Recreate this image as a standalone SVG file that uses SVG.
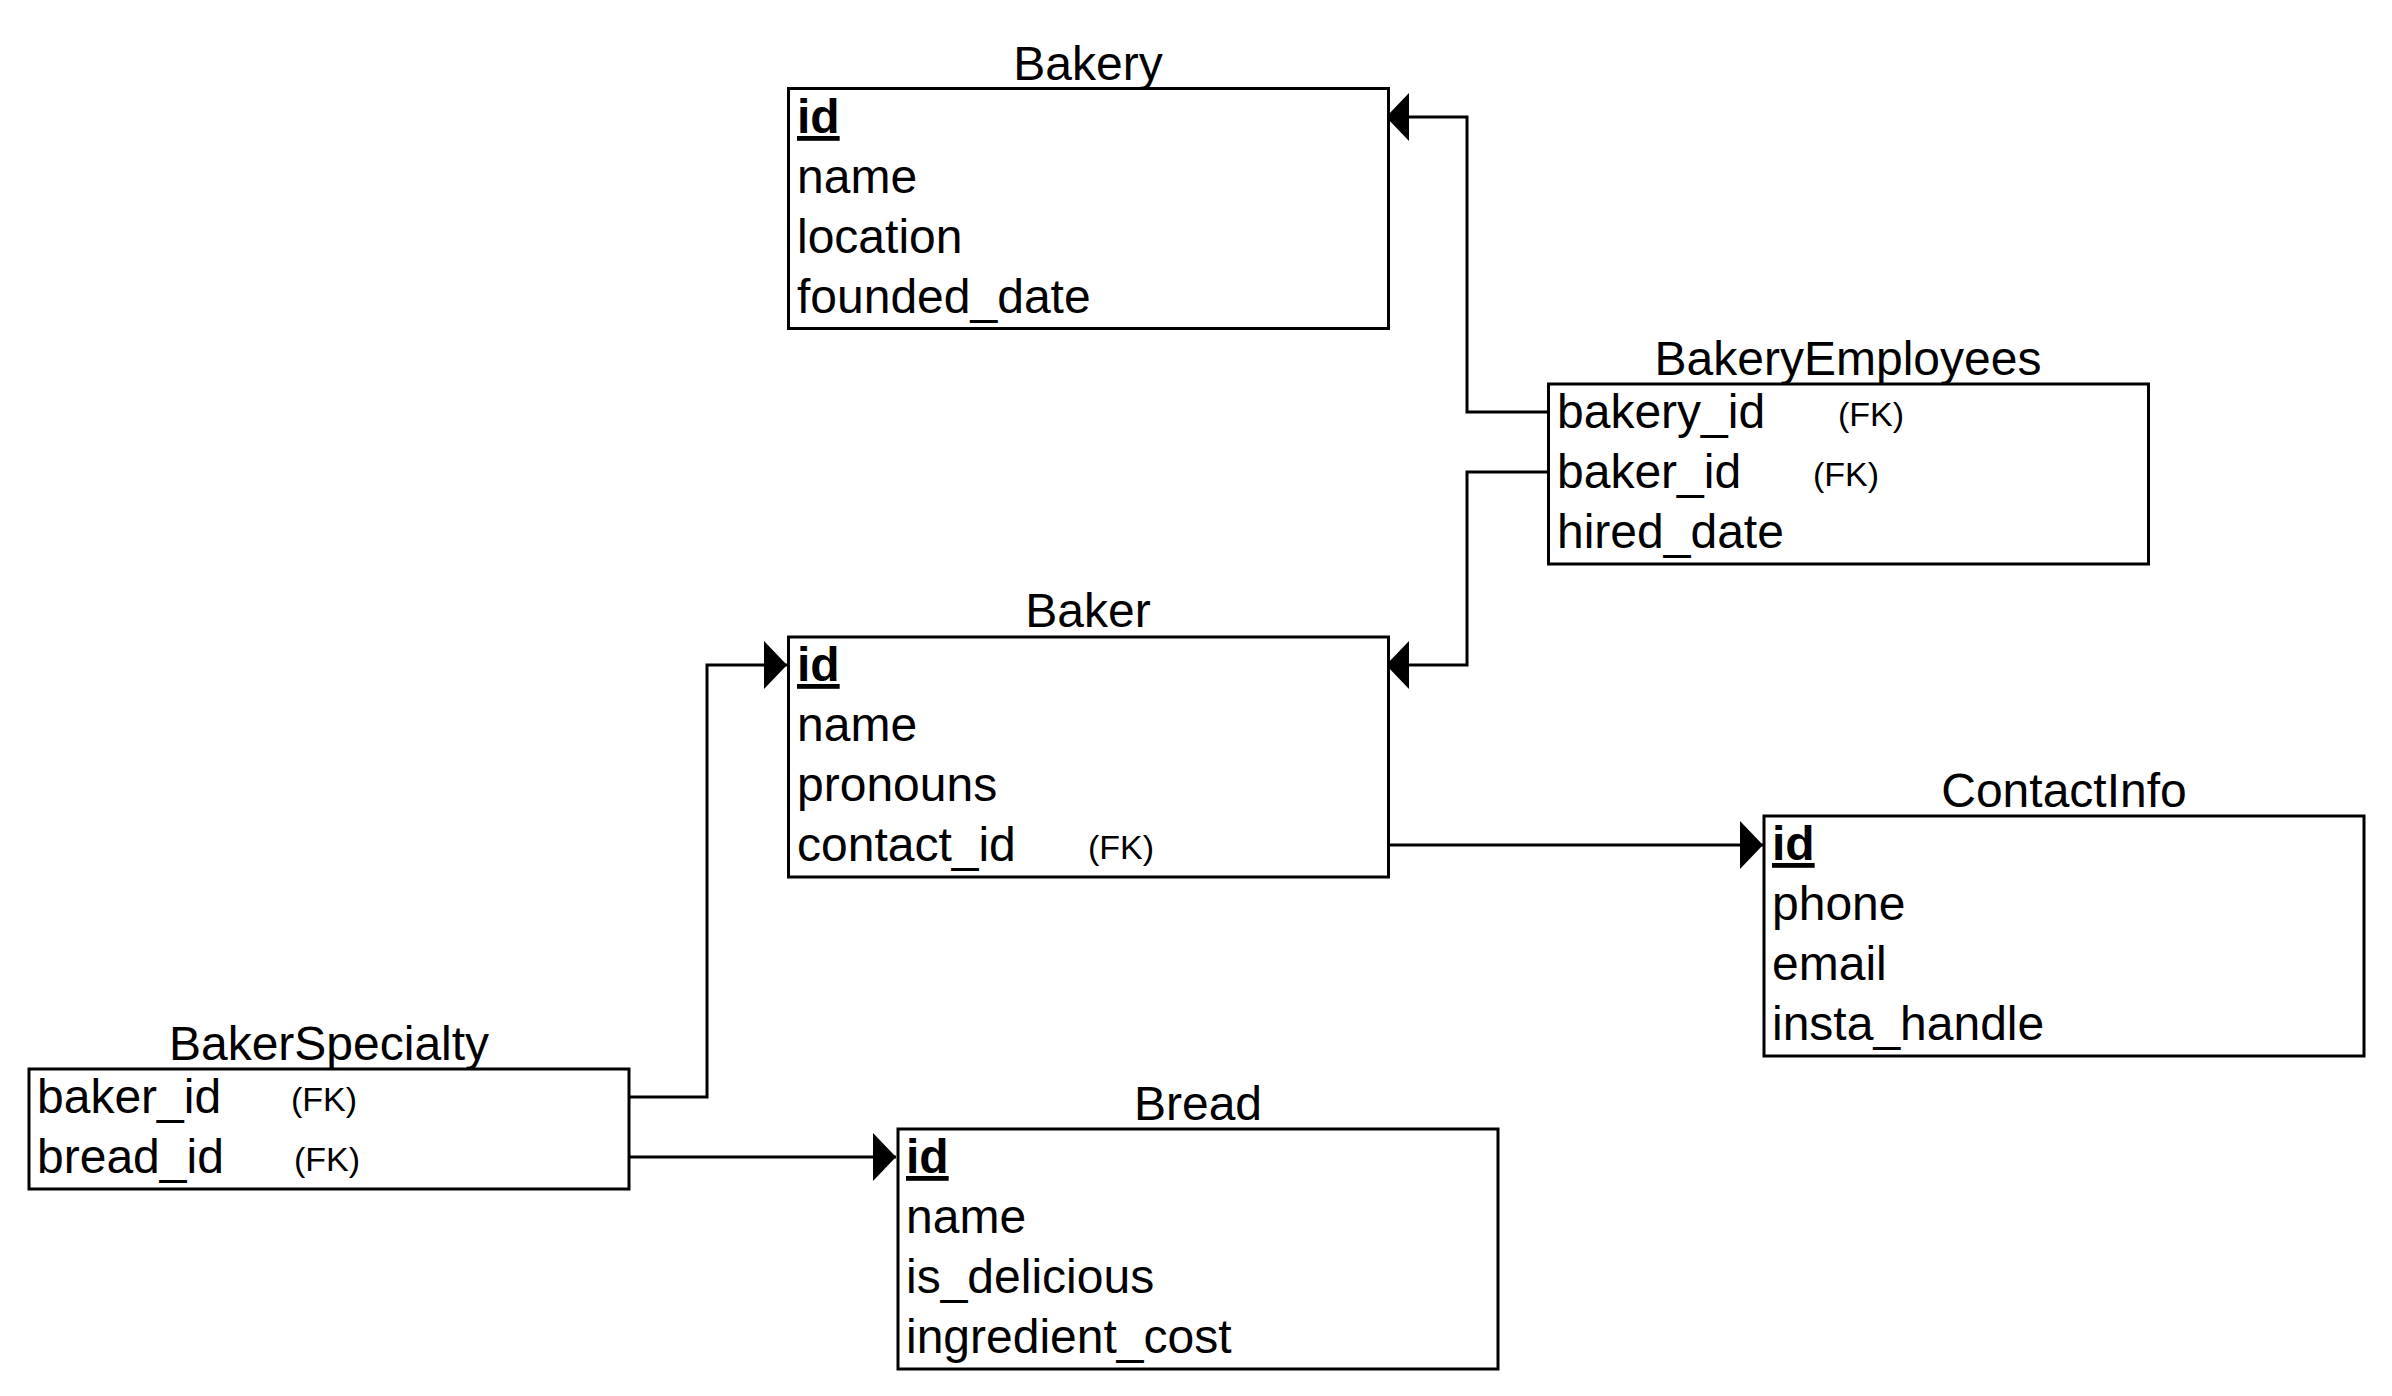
<svg xmlns="http://www.w3.org/2000/svg" width="2392" height="1396" viewBox="0 0 2392 1396">
<style>
  .box { fill: #ffffff; stroke: #000000; stroke-width: 3; }
  .title { font-family: "Liberation Sans", Arial, sans-serif; font-size: 48px; fill: #000; text-anchor: middle; }
  .row { font-family: "Liberation Sans", Arial, sans-serif; font-size: 48px; fill: #000; }
  .pk { font-weight: bold; text-decoration: underline; }
  .fk { font-family: "Liberation Sans", Arial, sans-serif; font-size: 34px; fill: #000; }
  .conn { fill: none; stroke: #000; stroke-width: 3; marker-end: url(#arrow); }
</style>
<defs>
  <marker id="arrow" markerUnits="userSpaceOnUse" viewBox="0 0 23 48" markerWidth="23" markerHeight="48" refX="23" refY="24" orient="auto">
    <path d="M0,0 L23,24 L0,48 Z" fill="#000"/>
  </marker>
</defs>
<rect width="2392" height="1396" fill="#ffffff"/>

<g id="connectors">
  <path class="conn" d="M1548,412 H1467 V117 H1386"/>
  <path class="conn" d="M1548,472 H1467 V665 H1386"/>
  <path class="conn" d="M1388,845 H1763"/>
  <path class="conn" d="M629,1097 H707 V665 H787"/>
  <path class="conn" d="M629,1157 H896"/>
</g>

<g id="bakery">
  <text class="title" x="1088" y="80">Bakery</text>
  <rect class="box" x="788.5" y="88.5" width="600" height="240"/>
  <text class="row pk" x="797" y="133">id</text>
  <text class="row" x="797" y="193">name</text>
  <text class="row" x="797" y="253">location</text>
  <text class="row" x="797" y="313">founded_date</text>
</g>

<g id="bakery-employees">
  <text class="title" x="1848" y="375">BakeryEmployees</text>
  <rect class="box" x="1548.5" y="384" width="600" height="180"/>
  <text class="row" x="1557" y="428">bakery_id</text>
  <text class="fk" x="1838" y="426">(FK)</text>
  <text class="row" x="1557" y="488">baker_id</text>
  <text class="fk" x="1813" y="486">(FK)</text>
  <text class="row" x="1557" y="548">hired_date</text>
</g>

<g id="baker">
  <text class="title" x="1088" y="627">Baker</text>
  <rect class="box" x="788.5" y="637" width="600" height="240"/>
  <text class="row pk" x="797" y="681">id</text>
  <text class="row" x="797" y="741">name</text>
  <text class="row" x="797" y="801">pronouns</text>
  <text class="row" x="797" y="861">contact_id</text>
  <text class="fk" x="1088" y="859">(FK)</text>
</g>

<g id="contact-info">
  <text class="title" x="2064" y="807">ContactInfo</text>
  <rect class="box" x="1764" y="816" width="600" height="240"/>
  <text class="row pk" x="1772" y="860">id</text>
  <text class="row" x="1772" y="920">phone</text>
  <text class="row" x="1772" y="980">email</text>
  <text class="row" x="1772" y="1040">insta_handle</text>
</g>

<g id="baker-specialty">
  <text class="title" x="329" y="1060">BakerSpecialty</text>
  <rect class="box" x="29" y="1069" width="600" height="120"/>
  <text class="row" x="37" y="1113">baker_id</text>
  <text class="fk" x="291" y="1111">(FK)</text>
  <text class="row" x="37" y="1173">bread_id</text>
  <text class="fk" x="294" y="1171">(FK)</text>
</g>

<g id="bread">
  <text class="title" x="1198" y="1120">Bread</text>
  <rect class="box" x="898" y="1129" width="600" height="240"/>
  <text class="row pk" x="906" y="1173">id</text>
  <text class="row" x="906" y="1233">name</text>
  <text class="row" x="906" y="1293">is_delicious</text>
  <text class="row" x="906" y="1353">ingredient_cost</text>
</g>
</svg>
